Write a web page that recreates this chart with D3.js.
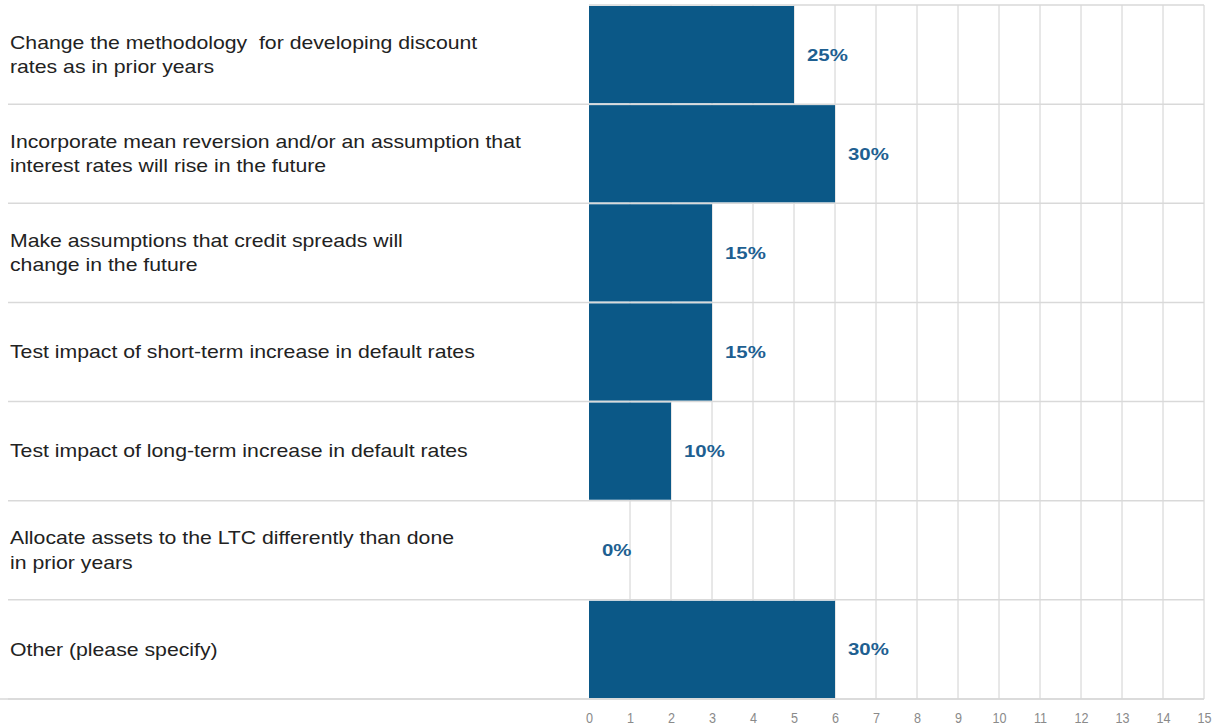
<!DOCTYPE html>
<html><head><meta charset="utf-8">
<script src="https://cdn.jsdelivr.net/npm/d3@7"></script>
<style>body{margin:0;background:#fff;}svg{display:block;}</style>
</head><body><svg id="c" width="1216" height="727"></svg>
<script>
const categories = [
  "Change the methodology  for developing discount\nrates as in prior years",
  "Incorporate mean reversion and/or an assumption that\ninterest rates will rise in the future",
  "Make assumptions that credit spreads will\nchange in the future",
  "Test impact of short-term increase in default rates",
  "Test impact of long-term increase in default rates",
  "Allocate assets to the LTC differently than done\nin prior years",
  "Other (please specify)"
];
const counts = [5, 6, 3, 3, 2, 0, 6];
const percentLabels = ["25%", "30%", "15%", "15%", "10%", "0%", "30%"];
const tickValues = [0,1,2,3,4,5,6,7,8,9,10,11,12,13,14,15];

const svg = d3.select("#c");
const x = d3.scaleLinear().domain([0, 15]).range([589, 1204]);
const y = d3.scaleBand().domain(d3.range(categories.length)).range([5, 699]).paddingInner(0.02).paddingOuter(0.01);
const top0 = 5;
const FONT = "Liberation Sans, Arial, sans-serif";

// vertical gridlines
svg.append("g").selectAll("line").data(tickValues.slice(1)).join("line")
  .attr("x1", d => x(d)).attr("x2", d => x(d)).attr("y1", top0).attr("y2", 699)
  .attr("stroke", "#d0d0d0").attr("stroke-width", 1);

// horizontal row separators
const bounds = d3.range(categories.length + 1).map(i => top0 + i * (694 / categories.length));
svg.append("g").selectAll("line").data(bounds).join("line")
  .attr("x1", (d,i) => i === 0 ? 589 : 8).attr("x2", 1204)
  .attr("y1", d => d).attr("y2", d => d)
  .attr("stroke", "#d9d9d9").attr("stroke-width", 1.5);

// bars
svg.append("g").selectAll("rect").data(counts).join("rect")
  .attr("x", x(0)).attr("y", (d,i) => y(i))
  .attr("width", d => x(d) - x(0)).attr("height", y.bandwidth())
  .attr("fill", "#0b5887");

// value labels
svg.append("g").selectAll("text").data(counts).join("text")
  .attr("transform", (d,i) => `translate(${x(d) + 13},${y(i) + y.bandwidth()/2}) scale(1.2,1)`)
  .attr("dy", "0.35em")
  .attr("font-family", FONT)
  .attr("font-size", 17).attr("font-weight", "bold").attr("fill", "#1e5f91")
  .text((d,i) => percentLabels[i]);

// category labels
const lab = svg.append("g").selectAll("text").data(categories).join("text")
  .attr("transform", "translate(10,0) scale(1.18,1)")
  .attr("font-family", FONT)
  .attr("font-size", 18).attr("fill", "#222");
lab.each(function(d, i) {
  const lines = d.split("\n");
  const cy = y(i) + y.bandwidth()/2;
  const lh = 24.5;
  const startY = cy - (lines.length - 1) * lh / 2;
  d3.select(this).selectAll("tspan").data(lines).join("tspan")
    .attr("x", 0).attr("y", (l, j) => startY + j * lh).attr("dy", "0.35em")
    .attr("xml:space", "preserve")
    .text(l => l);
});

// axis
const axis = d3.axisBottom(x).tickValues(tickValues).tickSize(0);
const ag = svg.append("g").attr("transform", "translate(0,699)").call(axis);
ag.select(".domain").remove();
ag.selectAll("text").attr("font-family", FONT)
  .attr("font-size", 14).attr("fill", "#8a8a8a")
  .attr("y", 24).attr("dy", 0)
  .attr("transform", "scale(0.9,1)");
svg.append("line").attr("x1", 0).attr("x2", 1204).attr("y1", 699).attr("y2", 699)
  .attr("stroke", "#d9d9d9").attr("stroke-width", 1.5);
</script></body></html>
